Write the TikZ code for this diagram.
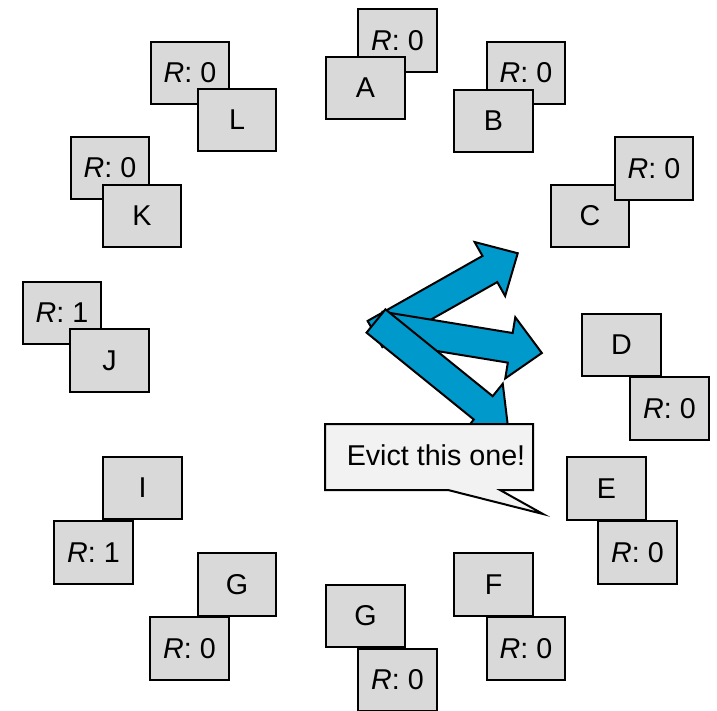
\documentclass[tikz,border=0pt]{standalone}
\usepackage{fontspec}
\setmainfont{Liberation Sans}
\definecolor{boxgray}{HTML}{D9D9D9}
\definecolor{calloutgray}{HTML}{F2F2F2}
\definecolor{arrowblue}{HTML}{0099CC}
\newcommand\fatarrow[4]{%
  \draw[fatarrowstyle, shift={(#1,#2)}, rotate=#3]
    (0,-15) -- ({#4-32},-15) -- ({#4-32},-31) -- (#4,0) -- ({#4-32},31) -- ({#4-32},15) -- (0,15) -- cycle;}
\begin{document}
\begin{tikzpicture}[x=0.75pt,y=-0.75pt,
  box/.style={draw=black, line width=1.5pt, fill=boxgray, minimum width=59pt, minimum height=47pt, inner sep=0pt, font=\fontsize{21.5}{24}\selectfont},
  fatarrowstyle/.style={draw=black, line width=1.5pt, fill=arrowblue, line join=miter},
  callouttext/.style={inner sep=0pt, font=\fontsize{21.5}{24}\selectfont}]
\useasboundingbox (0,0) rectangle (717,710);
% A
\node[box] (rA) at (397.5,40.5) {\textit{R}: 0};
\node[box] (A) at (365.5,88) {A};
% B
\node[box] (rB) at (526,73) {\textit{R}: 0};
\node[box] (B) at (493.5,121) {B};
% C
\node[box] (C) at (590,216) {C};
\node[box] (rC) at (654,168.5) {\textit{R}: 0};
% D
\node[box] (D) at (621.5,345) {D};
\node[box] (rD) at (669.5,408.5) {\textit{R}: 0};
% E
\node[box] (E) at (606.5,488.5) {E};
\node[box] (rE) at (637.5,552.5) {\textit{R}: 0};
% F
\node[box] (F) at (493.5,584.5) {F};
\node[box] (rF) at (526,648.5) {\textit{R}: 0};
% G bottom
\node[box] (G1) at (365.5,616) {G};
\node[box] (rG1) at (397.5,680) {\textit{R}: 0};
% G left
\node[box] (G2) at (237,584.5) {G};
\node[box] (rG2) at (189.5,648.5) {\textit{R}: 0};
% I
\node[box] (I) at (142.5,488) {I};
\node[box] (rI) at (93.5,552.5) {\textit{R}: 1};
% J
\node[box] (rJ) at (62,313) {\textit{R}: 1};
\node[box] (J) at (109.5,360.5) {J};
% K
\node[box] (rK) at (110,168) {\textit{R}: 0};
\node[box] (K) at (142,216) {K};
% L
\node[box] (rL) at (190,73) {\textit{R}: 0};
\node[box] (L) at (237,120) {L};
% arrows
\fatarrow{375}{334}{29.5}{164}
\fatarrow{380}{326.5}{-9.3}{164}
\fatarrow{376}{321}{-39}{170}
% callout
\draw[line width=1.5pt, fill=calloutgray, line join=miter]
  (325,424) -- (533,424) -- (533,490) -- (500,490) -- (543,514) -- (448,490) -- (325,490) -- cycle;
\node[callouttext] (evict) at (436,455) {Evict this one!};
\end{tikzpicture}
\end{document}
